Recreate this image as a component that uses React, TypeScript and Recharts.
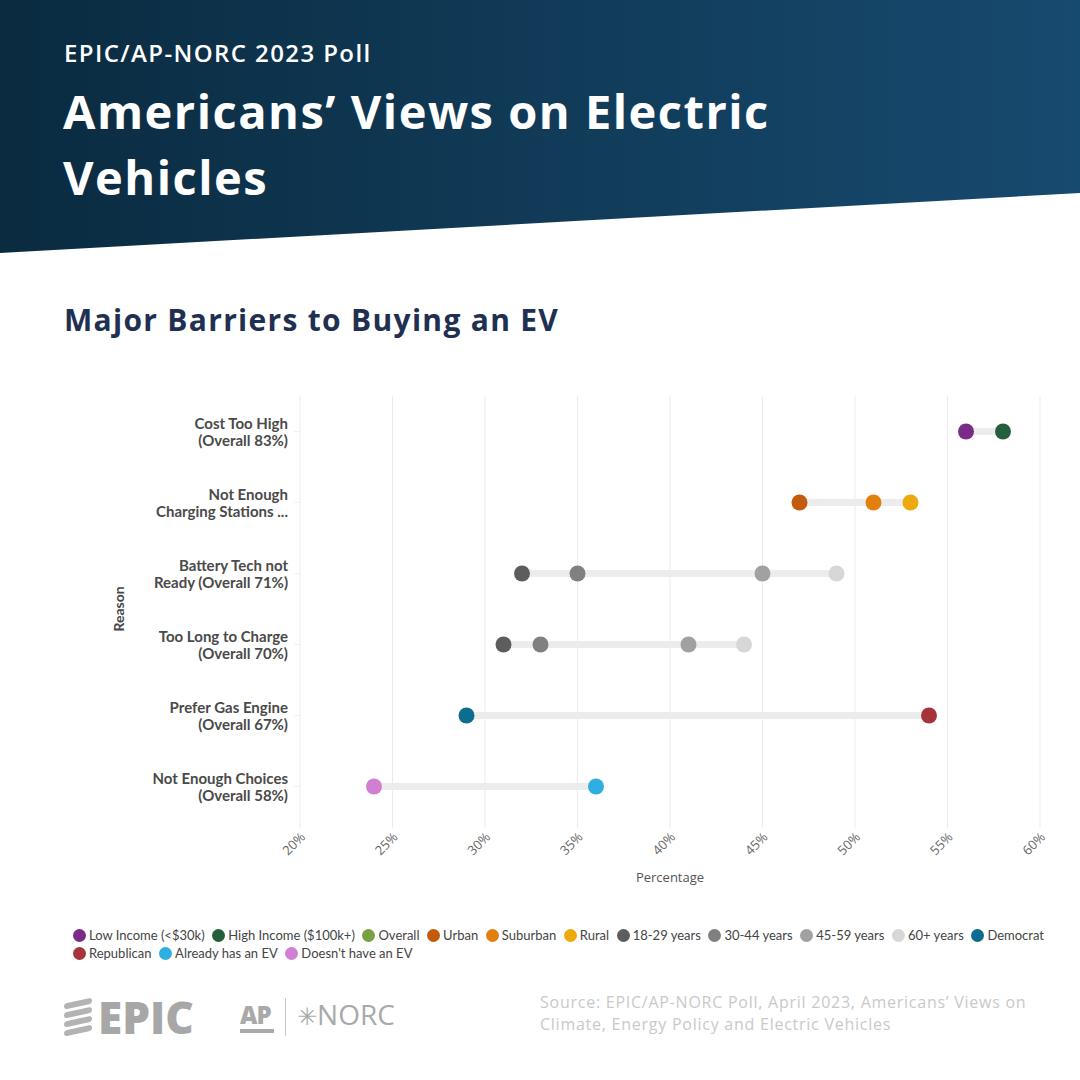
import { ComposedChart, Bar, Line, XAxis, YAxis, CartesianGrid } from 'recharts';

// reasons, top to bottom
const reasons = [
  'Cost Too High\n(Overall 83%)',
  'Not Enough\nCharging Stations ...',
  'Battery Tech not\nReady (Overall 71%)',
  'Too Long to Charge\n(Overall 70%)',
  'Prefer Gas Engine\n(Overall 67%)',
  'Not Enough Choices\n(Overall 58%)',
];

// one entry per subgroup; values line up with reasons (null = not shown)
const groupKeys = [
  'lowIncome', 'highIncome', 'overall', 'urban', 'suburban', 'rural',
  'age18', 'age30', 'age45', 'age60', 'democrat', 'republican', 'hasEv', 'noEv',
];
const groupNames = [
  'Low Income (<$30k)', 'High Income ($100k+)', 'Overall', 'Urban', 'Suburban', 'Rural',
  '18-29 years', '30-44 years', '45-59 years', '60+ years', 'Democrat', 'Republican',
  'Already has an EV', "Doesn't have an EV",
];
const groupColors = [
  '#7a2b88', '#255e3a', '#79a043', '#c35a0c', '#e2800f', '#ecaa0d',
  '#5d5d5d', '#808080', '#a1a1a1', '#d7d7d7', '#0c6d90', '#a5353b',
  '#2fafe0', '#d07fd2',
];

const lowIncome = [56, null, null, null, null, null];
const highIncome = [58, null, null, null, null, null];
const overall = [null, null, null, null, null, null];
const urban = [null, 47, null, null, null, null];
const suburban = [null, 51, null, null, null, null];
const rural = [null, 53, null, null, null, null];
const age18 = [null, null, 32, 31, null, null];
const age30 = [null, null, 35, 33, null, null];
const age45 = [null, null, 45, 41, null, null];
const age60 = [null, null, 49, 44, null, null];
const democrat = [null, null, null, null, 29, null];
const republican = [null, null, null, null, 54, null];
const hasEv = [null, null, null, null, null, 36];
const noEv = [null, null, null, null, null, 24];

const groupValues = [
  lowIncome, highIncome, overall, urban, suburban, rural,
  age18, age30, age45, age60, democrat, republican, hasEv, noEv,
];

const xTicks = [20, 25, 30, 35, 40, 45, 50, 55, 60];

const data = reasons.map((reason, i) => {
  const row: Record<string, any> = { reason };
  const vals: number[] = [];
  groupKeys.forEach((k, g) => {
    const v = groupValues[g][i];
    row[k] = v;
    if (v != null) vals.push(v);
  });
  row.range = [Math.min(...vals), Math.max(...vals)];
  return row;
});

const ReasonTick = (props: any) => {
  const { x, y, payload } = props;
  const lines = String(payload.value).split('\n');
  return (
    <text
      x={x}
      y={y}
      textAnchor="end"
      fontFamily="Lato, sans-serif"
      fontWeight={700}
      fontSize={15}
      fill="#4a4a4a"
    >
      {lines.map((l, i) => (
        <tspan key={i} x={x} dy={i === 0 ? -3 : 17}>
          {l}
        </tspan>
      ))}
    </text>
  );
};

const ReasonLabel = (props: any) => {
  const { viewBox } = props;
  const cx = viewBox.x + 18;
  const cy = viewBox.y + viewBox.height / 2;
  return (
    <text
      x={cx}
      y={cy}
      transform={`rotate(-90, ${cx}, ${cy})`}
      textAnchor="middle"
      dominantBaseline="central"
      fontFamily="Lato, sans-serif"
      fontWeight={700}
      fontSize={14}
      fill="#444"
    >
      Reason
    </text>
  );
};

const PctTick = (props: any) => {
  const { x, y, payload } = props;
  return (
    <text
      x={x + 6}
      y={y + 8}
      transform={`rotate(-45, ${x + 6}, ${y + 8})`}
      textAnchor="end"
      fontFamily="'Open Sans', sans-serif"
      fontSize={13}
      fill="#666"
    >
      {payload.value}%
    </text>
  );
};

const EpicLogo = () => (
  <>
    <svg width={34} height={46} style={{ position: 'absolute', left: 62, top: 994 }}>
      {[0, 1, 2, 3].map((i) => (
        <rect key={i} x={2} y={10 + i * 9} width={28} height={6} rx={3} fill="#b3b3b3" transform="skewY(-12)" />
      ))}
    </svg>
    <div style={{ position: 'absolute', left: 98, top: 989, fontFamily: "'Open Sans', sans-serif", fontWeight: 800, fontSize: 44, color: '#a7a7a7', lineHeight: '56px' }}>
      EPIC
    </div>
  </>
);

const App = () => {
  return (
    <div style={{ position: 'absolute', left: 0, top: 0, width: 1080, height: 1080, background: '#fff', overflow: 'hidden' }}>
      <svg width={1080} height={260} style={{ position: 'absolute', left: 0, top: 0 }}>
        <defs>
          <linearGradient id="band" x1="0" y1="0" x2="1" y2="0">
            <stop offset="0%" stopColor="#0a2b40" />
            <stop offset="100%" stopColor="#174a6f" />
          </linearGradient>
        </defs>
        <polygon points="0,0 1080,0 1080,193 0,253" fill="url(#band)" />
      </svg>
      <div style={{ position: 'absolute', left: 64, top: 36, color: '#fff', fontFamily: "'Open Sans', sans-serif", fontSize: 24, fontWeight: 600, letterSpacing: 1.4 }}>
        EPIC/AP-NORC 2023 Poll
      </div>
      <div style={{ position: 'absolute', left: 63, top: 78, color: '#fff', fontFamily: "'Open Sans', sans-serif", fontSize: 47, fontWeight: 700, lineHeight: '66px', letterSpacing: 1.5, width: 820 }}>
        Americans’ Views on Electric
        <br />
        Vehicles
      </div>
      <div style={{ position: 'absolute', left: 64, top: 299, color: '#1f3052', fontFamily: "'Open Sans', sans-serif", fontSize: 30, fontWeight: 700, letterSpacing: 1.3 }}>
        Major Barriers to Buying an EV
      </div>

      <div style={{ position: 'absolute', left: 0, top: 380 }}>
        <ComposedChart
          width={1080}
          height={530}
          data={data}
          layout="vertical"
          margin={{ top: 16, right: 40, left: 100, bottom: 28 }}
        >
          <CartesianGrid horizontal={false} stroke="#ebebeb" />
          <XAxis
            type="number"
            domain={[20, 60]}
            ticks={xTicks}
            interval={0}
            height={60}
            axisLine={false}
            tickLine={{ stroke: '#ebebeb' }}
            tickSize={6}
            tick={<PctTick />}
            label={{ value: 'Percentage', position: 'insideBottom', offset: 0, fill: '#555', fontSize: 13, fontFamily: "'Open Sans', sans-serif" }}
          />
          <YAxis
            type="category"
            dataKey="reason"
            width={200}
            axisLine={false}
            tickLine={{ stroke: '#f0f0f0' }}
            tickSize={6}
            tickMargin={6}
            tick={<ReasonTick />}
            label={<ReasonLabel />}
          />
          <Bar dataKey="range" barSize={7} fill="#ececec" isAnimationActive={false} />
          {groupKeys.map((k, g) => (
            <Line
              key={k}
              dataKey={k}
              name={groupNames[g]}
              stroke="none"
              strokeWidth={0}
              dot={{ r: 8, fill: groupColors[g], stroke: 'none' }}
              activeDot={false}
              isAnimationActive={false}
            />
          ))}
        </ComposedChart>
      </div>

      <div
        style={{
          position: 'absolute',
          left: 73,
          top: 926,
          width: 990,
          display: 'flex',
          flexWrap: 'wrap',
          fontFamily: 'Lato, sans-serif',
          fontSize: 13,
          color: '#444',
        }}
      >
        {groupNames.map((n, g) => (
          <div key={n} style={{ display: 'flex', alignItems: 'center', marginRight: 7.6, height: 18 }}>
            <span style={{ width: 13, height: 13, borderRadius: '50%', background: groupColors[g], marginRight: 3, display: 'inline-block' }} />
            {n}
          </div>
        ))}
      </div>

      <EpicLogo />
      <div style={{ position: 'absolute', left: 240, top: 998, fontFamily: "'Open Sans', sans-serif", fontWeight: 800, fontSize: 24, color: '#a9a9a9', letterSpacing: -1 }}>
        AP
        <div style={{ width: 34, height: 4, background: '#a9a9a9', marginTop: -2 }} />
      </div>
      <div style={{ position: 'absolute', left: 285, top: 998, width: 1, height: 38, background: '#c8c8c8' }} />
      <div style={{ position: 'absolute', left: 297, top: 995, fontFamily: "'Open Sans', sans-serif", fontSize: 28, color: '#a9a9a9' }}>
        <span style={{ fontFamily: "'DejaVu Sans', sans-serif", fontSize: 24 }}>✳</span>NORC
      </div>
      <div style={{ position: 'absolute', left: 540, top: 991, width: 530, fontFamily: "'Open Sans', sans-serif", fontSize: 16, lineHeight: '22px', letterSpacing: 0.75, color: '#c9c9c9' }}>
        Source: EPIC/AP-NORC Poll, April 2023, Americans’ Views on
        <br />
        Climate, Energy Policy and Electric Vehicles
      </div>
    </div>
  );
};

export default App;
